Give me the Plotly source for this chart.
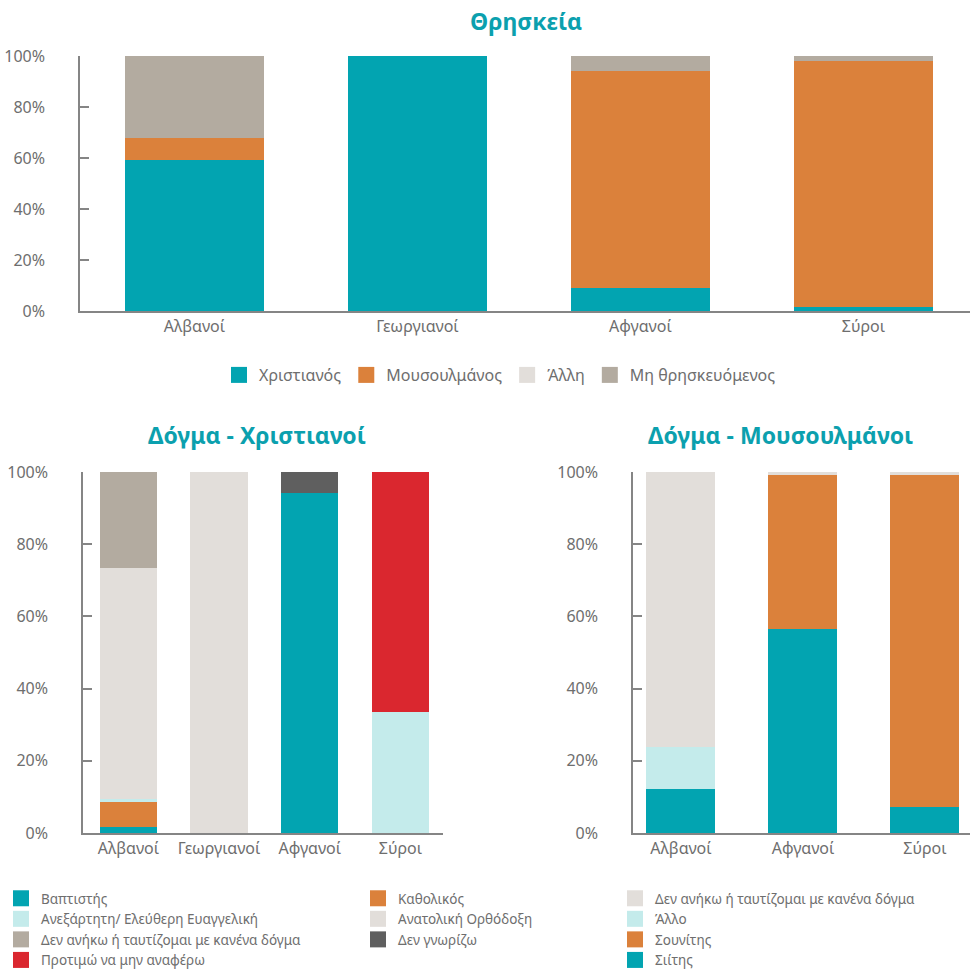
import plotly.graph_objects as go

# ---------------- data ----------------
groups_top = ["Αλβανοί", "Γεωργιανοί", "Αφγανοί", "Σύροι"]
rel_names = ["Χριστιανός", "Μουσουλμάνος", "Άλλη", "Μη θρησκευόμενος"]
rel_christian = [59.2, 100, 9.0, 1.4]
rel_muslim = [8.6, 0, 85.0, 96.6]
rel_other = [0, 0, 0, 0]
rel_none = [32.2, 0, 6.0, 2.0]

groups_chr = ["Αλβανοί", "Γεωργιανοί", "Αφγανοί", "Σύροι"]
chr_names = ["Βαπτιστής", "Καθολικός", "Ανεξάρτητη/ Ελεύθερη Ευαγγελική",
             "Ανατολική Ορθόδοξη", "Δεν ανήκω ή ταυτίζομαι με κανένα δόγμα",
             "Δεν γνωρίζω", "Προτιμώ να μην αναφέρω"]
chr_baptist = [1.8, 0, 94.1, 0]
chr_catholic = [6.9, 0, 0, 0]
chr_independent = [0.7, 0, 0, 33.5]
chr_orthodox = [64.0, 100, 0, 0]
chr_none = [26.6, 0, 0, 0]
chr_dontknow = [0, 0, 5.9, 0]
chr_prefer_not = [0, 0, 0, 66.5]

groups_mus = ["Αλβανοί", "Αφγανοί", "Σύροι"]
mus_names = ["Σιίτης", "Σουνίτης", "Άλλο", "Δεν ανήκω ή ταυτίζομαι με κανένα δόγμα"]
mus_shia = [12.3, 56.5, 7.1]
mus_sunni = [0, 42.6, 92.0]
mus_other = [11.5, 0, 0]
mus_none = [76.2, 0.9, 0.9]

y_ticks = [0, 20, 40, 60, 80, 100]
y_tick_labels = ["0%", "20%", "40%", "60%", "80%", "100%"]

# ---------------- style ----------------
TEAL = "#02A4B1"
ORANGE = "#DB813B"
LIGHT = "#E2DEDA"
GREY = "#B3ABA0"
CYAN = "#C4EBEB"
DARK = "#5F5F5F"
RED = "#DA272F"
TXT = "#6E6E6E"
AX = "#858585"
TITLE = "#0BA0AE"
FONT = "Noto Sans"

W, H = 970, 971

fig = go.Figure()

def add_series(names, series, colors, cats, xa, ya, width, legends, order=None):
    for name, vals, col in zip(names, series, colors):
        fig.add_trace(go.Bar(x=cats, y=vals, name=name, marker=dict(color=col, line=dict(width=0)),
                             width=width, xaxis=xa, yaxis=ya, showlegend=False,
                             legendgroup=name + xa, hoverinfo="x+y+name"))
    idx = range(len(names)) if order is None else order
    for i in idx:
        fig.add_trace(go.Scatter(x=[None], y=[None], mode="markers", name=names[i],
                                 marker=dict(symbol="square", size=16, color=colors[i], line=dict(width=0)),
                                 xaxis=xa, yaxis=ya, legend=legends[i], legendgroup=names[i] + xa,
                                 showlegend=True))

add_series(rel_names, [rel_christian, rel_muslim, rel_other, rel_none],
           [TEAL, ORANGE, LIGHT, GREY], groups_top, "x", "y", 0.62, ["legend"] * 4)

add_series(chr_names, [chr_baptist, chr_catholic, chr_independent, chr_orthodox, chr_none,
                       chr_dontknow, chr_prefer_not],
           [TEAL, ORANGE, CYAN, LIGHT, GREY, DARK, RED], groups_chr, "x2", "y2", 0.63,
           ["legend2", "legend3", "legend2", "legend3", "legend2", "legend3", "legend2"])

add_series(mus_names, [mus_shia, mus_sunni, mus_other, mus_none],
           [TEAL, ORANGE, CYAN, LIGHT], groups_mus, "x3", "y3", 0.565,
           ["legend4"] * 4, order=[3, 2, 1, 0])

def px_x(p):
    return p / W

def px_y(p):
    return 1 - p / H

yax = dict(range=[0, 100], tickvals=y_ticks, ticktext=y_tick_labels, showline=True, linecolor=AX,
           linewidth=1.5, ticks="inside", ticklen=9, tickwidth=1.5, tickcolor=AX,
           showgrid=False, zeroline=False, ticklabelstandoff=30, automargin=False,
           tickfont=dict(family=FONT, size=16, color=TXT), fixedrange=True)
xax = dict(type="category", showline=True, linecolor=AX, linewidth=1.5, ticks="",
           showgrid=False, zeroline=False, automargin=False,
           tickfont=dict(family=FONT, size=16, color=TXT), fixedrange=True)

leg_font = dict(family=FONT, size=13.5, color=TXT)

fig.update_layout(
    width=W, height=H, margin=dict(l=0, r=0, t=0, b=0, autoexpand=False),
    paper_bgcolor="white", plot_bgcolor="white",
    barmode="stack",
    font=dict(family=FONT, size=15, color=TXT),
    xaxis=dict(xax, domain=[px_x(80), 1], range=[-0.513, -0.513 + (W - 80) / 223], anchor="y"),
    yaxis=dict(yax, domain=[px_y(311), px_y(56)], anchor="x"),
    xaxis2=dict(xax, domain=[px_x(83), px_x(443)], range=[-0.5, 3.47], anchor="y2"),
    yaxis2=dict(yax, domain=[px_y(833), px_y(472)], anchor="x2"),
    xaxis3=dict(xax, domain=[px_x(633), 1], range=[-0.393, -0.393 + (W - 633) / 122], anchor="y3"),
    yaxis3=dict(yax, domain=[px_y(833), px_y(472)], anchor="x3"),
    legend=dict(orientation="h", x=px_x(500), xanchor="center", y=px_y(375), yanchor="middle",
                font=dict(family=FONT, size=16, color=TXT), bgcolor="rgba(0,0,0,0)"),
    legend2=dict(orientation="v", x=px_x(1), xanchor="left", y=px_y(883), yanchor="top",
                 font=leg_font, tracegroupgap=0, bgcolor="rgba(0,0,0,0)"),
    legend3=dict(orientation="v", x=px_x(358), xanchor="left", y=px_y(883), yanchor="top",
                 font=leg_font, tracegroupgap=0, bgcolor="rgba(0,0,0,0)"),
    legend4=dict(orientation="v", x=px_x(615), xanchor="left", y=px_y(883), yanchor="top",
                 font=leg_font, tracegroupgap=0, bgcolor="rgba(0,0,0,0)"),
    annotations=[
        dict(text="<b>Θρησκεία</b>", x=px_x(526), y=px_y(21), xref="paper", yref="paper",
             xanchor="center", yanchor="middle", showarrow=False,
             font=dict(family=FONT, size=23, color=TITLE)),
        dict(text="<b>Δόγμα - Χριστιανοί</b>", x=px_x(257), y=px_y(435), xref="paper", yref="paper",
             xanchor="center", yanchor="middle", showarrow=False,
             font=dict(family=FONT, size=23, color=TITLE)),
        dict(text="<b>Δόγμα - Μουσουλμάνοι</b>", x=px_x(780), y=px_y(435), xref="paper", yref="paper",
             xanchor="center", yanchor="middle", showarrow=False,
             font=dict(family=FONT, size=23, color=TITLE)),
    ],
)

# remove the browser's default page margin so the figure fills the window exactly
fig.write_html("out.html", config={"displayModeBar": False},
               post_script="document.body.style.margin='0';document.body.style.overflow='hidden';")
